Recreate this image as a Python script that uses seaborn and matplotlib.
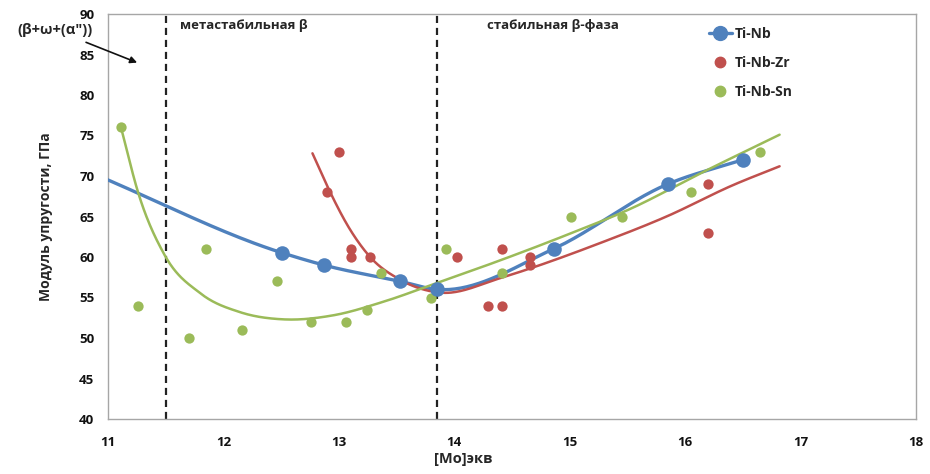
import numpy as np
import matplotlib
matplotlib.use("Agg")
import matplotlib.pyplot as plt
from matplotlib.lines import Line2D
import seaborn as sns

# ---- data -------------------------------------------------------------
# Ti-Nb (connected by a smoothed line; first point lies left of the axis range)
nb_x = [10.9, 12.51, 12.87, 13.53, 13.85, 14.86, 15.85, 16.50]
nb_y = [70.1, 60.5, 59.0, 57.0, 56.0, 61.0, 69.0, 72.0]

# Ti-Nb-Zr
zr_x = [12.90, 13.00, 13.10, 13.10, 13.27, 14.02, 14.29, 14.41, 14.41, 14.66, 14.66, 16.20, 16.20]
zr_y = [68.0, 73.0, 61.0, 60.0, 60.0, 60.0, 54.0, 54.0, 61.0, 60.0, 59.0, 69.0, 63.0]

# Ti-Nb-Sn
sn_x = [11.11, 11.26, 11.70, 11.85, 12.16, 12.46, 12.76, 13.06, 13.24, 13.36,
        13.80, 13.93, 14.41, 15.01, 15.45, 16.05, 16.65]
sn_y = [76.0, 54.0, 50.0, 61.0, 51.0, 57.0, 52.0, 52.0, 53.5, 58.0,
        55.0, 61.0, 58.0, 65.0, 65.0, 68.0, 73.0]

# trend curves (knots of the fitted curves)
zr_trend_x = [12.77, 12.90, 13.10, 13.27, 13.53, 13.88, 14.40, 14.66, 15.26, 15.84, 16.42, 16.82]
zr_trend_y = [72.8, 68.7, 63.3, 60.0, 57.2, 55.6, 57.4, 58.6, 61.7, 65.0, 68.9, 71.2]

sn_trend_x = [11.11, 11.26, 11.49, 11.80, 12.14, 12.52, 12.95, 13.39, 13.85, 14.40, 14.97, 15.55, 16.13, 16.82]
sn_trend_y = [76.0, 67.9, 60.2, 55.5, 53.2, 52.3, 52.8, 54.5, 56.8, 59.6, 62.7, 66.1, 70.3, 75.1]

# phase boundaries, [Mo]eq
boundaries = [11.5, 13.85]

x_ticks = [11, 12, 13, 14, 15, 16, 17, 18]
y_ticks = [40, 45, 50, 55, 60, 65, 70, 75, 80, 85, 90]

BLUE = "#4F81BD"
RED = "#C0504D"
GREEN = "#9BBB59"
GREY = "#A6A6A6"


def smooth(xs, ys, n=40):
    """Cubic Hermite curve y(x) through the points, three-point slopes."""
    x = np.asarray(xs, float)
    y = np.asarray(ys, float)
    h = np.diff(x)
    d = np.diff(y) / h
    m = np.empty_like(y)
    m[0], m[-1] = d[0], d[-1]
    m[1:-1] = (d[:-1] * h[1:] + d[1:] * h[:-1]) / (h[:-1] + h[1:])
    gx, gy = [], []
    for i in range(len(x) - 1):
        t = np.linspace(0, 1, n)
        h00 = 2 * t**3 - 3 * t**2 + 1
        h10 = t**3 - 2 * t**2 + t
        h01 = -2 * t**3 + 3 * t**2
        h11 = t**3 - t**2
        gx.append(x[i] + t * h[i])
        gy.append(h00 * y[i] + h10 * h[i] * m[i] + h01 * y[i + 1] + h11 * h[i] * m[i + 1])
    return np.concatenate(gx), np.concatenate(gy)


sns.set_theme(style="white")
plt.rcParams["font.family"] = ["Open Sans", "DejaVu Sans"]
plt.rcParams["font.weight"] = "bold"

fig = plt.figure(figsize=(9.30, 4.74), dpi=100)
ax = fig.add_axes([108.3 / 930, 1 - 419 / 474, (915.7 - 108.3) / 930, (419 - 14) / 474])

# smoothed and trend lines
bx, by = smooth(nb_x, nb_y)
sns.lineplot(x=bx, y=by, sort=False, color=BLUE, lw=2.4, ax=ax, zorder=3)
rx, ry = smooth(zr_trend_x, zr_trend_y)
sns.lineplot(x=rx, y=ry, sort=False, color=RED, lw=1.8, ax=ax, zorder=3)
gx, gy = smooth(sn_trend_x, sn_trend_y)
sns.lineplot(x=gx, y=gy, sort=False, color=GREEN, lw=1.8, ax=ax, zorder=3)

# points
sns.scatterplot(x=sn_x, y=sn_y, color=GREEN, s=55, linewidth=0, ax=ax, zorder=4)
sns.scatterplot(x=zr_x, y=zr_y, color=RED, s=55, linewidth=0, ax=ax, zorder=4)
sns.scatterplot(x=nb_x, y=nb_y, color=BLUE, s=110, linewidth=0, ax=ax, zorder=5)

for b in boundaries:
    ax.axvline(b, color="#222222", lw=1.6, ls=(0, (3.2, 2.2)), zorder=2)

ax.set_xlim(11, 18)
ax.set_ylim(40, 90)
ax.set_xticks(x_ticks)
ax.set_yticks(y_ticks)
ax.tick_params(axis="both", direction="inout", length=8, width=1, color=GREY,
               labelsize=9.5, labelcolor="#111111")
ax.tick_params(axis="x", pad=8)
ax.tick_params(axis="y", pad=6)
for lab in ax.get_xticklabels() + ax.get_yticklabels():
    lab.set_fontweight("bold")
for s in ax.spines.values():
    s.set_color(GREY)
    s.set_linewidth(1.0)

ax.set_xlabel("[Mo]экв", fontsize=10.5, fontweight="bold")
ax.xaxis.set_label_coords((463 - 108.3) / 807.4, -(452 - 419) / 405, transform=ax.transAxes)
ax.set_ylabel("Модуль упругости, ГПа", fontsize=10, fontweight="bold")
ax.yaxis.set_label_coords(-(108.3 - 53) / 807.4, 0.5, transform=ax.transAxes)

ax.text(180 / 930, 1 - 25 / 474, "метастабильная β", transform=fig.transFigure,
        fontsize=9.5, fontweight="bold", va="center", ha="left")
ax.text(487 / 930, 1 - 25 / 474, "стабильная β-фаза", transform=fig.transFigure,
        fontsize=9.5, fontweight="bold", va="center", ha="left")
ax.annotate("(β+ω+(α\"))", xy=(11.25, 84.0), xycoords="data",
            xytext=(55 / 930, 1 - 30 / 474), textcoords="figure fraction",
            fontsize=10.5, fontweight="bold", ha="center", va="center",
            arrowprops=dict(arrowstyle="-|>", color="#111111", lw=1.2,
                            shrinkA=4, shrinkB=0, mutation_scale=10),
            annotation_clip=False)

# legend (no frame)
handles = [
    Line2D([], [], color=BLUE, lw=2.4, marker="o", ms=10, mec=BLUE),
    Line2D([], [], color=RED, lw=0, marker="o", ms=7.5),
    Line2D([], [], color=GREEN, lw=0, marker="o", ms=7.5),
]
leg = fig.legend(handles, ["Ti-Nb", "Ti-Nb-Zr", "Ti-Nb-Sn"], loc="upper left",
                 bbox_to_anchor=(696 / 930, 1 - 14 / 474), frameon=False,
                 prop={"weight": "bold", "size": 10}, handlelength=1.7,
                 handletextpad=0.2, labelspacing=1.1)
leg.set_zorder(7)

fig.savefig("out.png", dpi=100, facecolor="white")
